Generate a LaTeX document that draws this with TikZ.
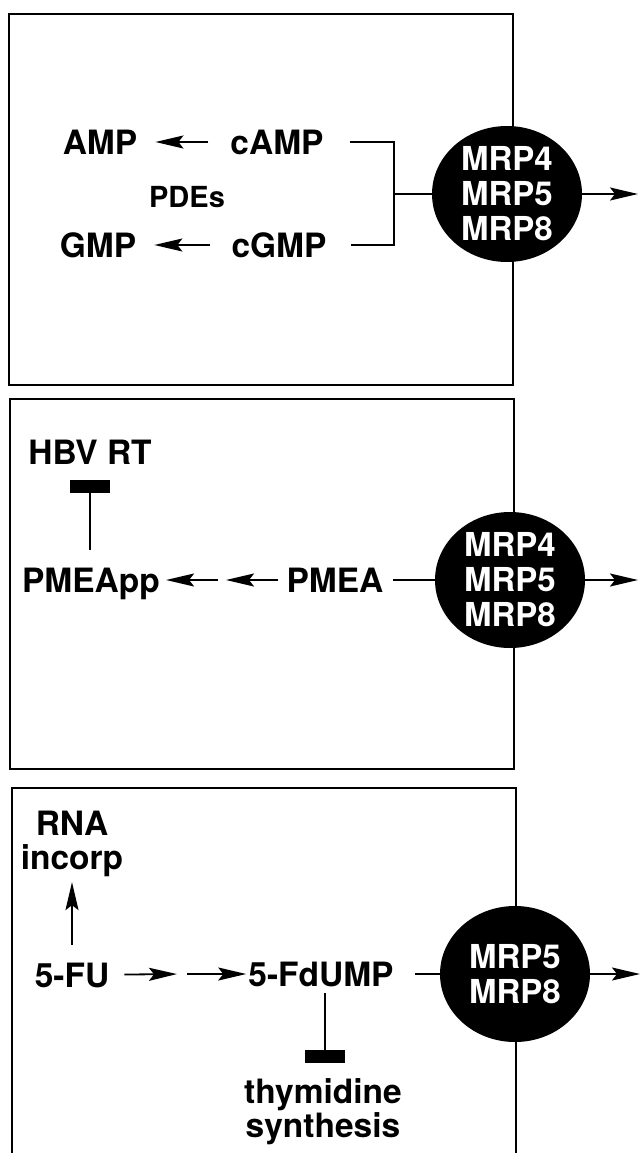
\documentclass[tikz,border=0pt]{standalone}
\usepackage{fontspec}
\setmainfont{TeX Gyre Heros}
\usetikzlibrary{arrows.meta,shapes.geometric,positioning}
\tikzset{>={Stealth[length=28pt,width=13pt,inset=5pt]}}
\tikzset{
  lbl/.style={font=\fontsize{33.5}{35}\selectfont\bfseries, inner sep=0pt, text height=24pt, text depth=0pt},
  lbltwo/.style={font=\fontsize{33.5}{34}\selectfont\bfseries, inner sep=0pt, align=center},
  mrp/.style={ellipse, fill=black, text=white, minimum width=150pt, minimum height=136pt,
    inner sep=0pt, align=center, font=\fontsize{33}{35}\selectfont\bfseries},
  panel/.style={line width=2pt},
  link/.style={line width=1.8pt},
  tbar/.style={fill=black, minimum width=40pt, minimum height=13pt, inner sep=0pt},
}

\begin{document}
\begin{tikzpicture}[x=1pt,y=-1pt]
\useasboundingbox (0,0) rectangle (641,1153);
% the three cells
\draw[panel] (8.5,14) rectangle (513,385);
\draw[panel] (10,399) rectangle (514,769);
\draw[panel] (12,1153) |- (516,788) -- (516,1153);

% cyclic nucleotides
\node[lbl] (amp) at (100,142) {AMP};
\node[lbl] (camp) at (277,142) {cAMP};
\node[lbl] (gmp) at (98,245) {GMP};
\node[lbl] (cgmp) at (279,245) {cGMP};
\node[lbl, font=\fontsize{29}{30}\selectfont\bfseries, text height=21pt] (pdes) at (187,197) {PDEs};
\node[mrp] (mrpA) at (507,194) {MRP4\\MRP5\\MRP8};
\coordinate (joinA) at (394,194);
\coordinate (outA) at (638,194);
\draw[link,->,shorten <=22pt,shorten >=18pt] (camp.west) -- (amp.east);
\draw[link,->,shorten <=21pt,shorten >=18pt] (cgmp.west) -- (gmp.east);
\draw[link] ([xshift=26pt]camp.east) -| (joinA) |- ([xshift=24pt]cgmp.east);
\draw[link] (joinA) -- (mrpA);
\draw[link,->] (mrpA) -- (outA);

% adefovir
\node[lbl] (hbv) at (90,452) {HBV RT};
\node[tbar] (hbvbar) at (90,486.5) {};
\node[lbl] (pmeapp) at (91,580) {PMEApp};
\node[lbl] (pmea) at (335,580) {PMEA};
\coordinate (midB) at (222,580);
\node[mrp] (mrpB) at (510,580) {MRP4\\MRP5\\MRP8};
\coordinate (outB) at (638,580);
\draw[link,shorten <=18pt] (pmeapp.north -| hbvbar) -- (hbvbar);
\draw[link,->,shorten <=8pt,shorten >=4pt] (pmea) -- (midB);
\draw[link,->,shorten <=4pt,shorten >=6pt] (midB) -- (pmeapp);
\draw[link,shorten <=9pt] (pmea) -- (mrpB);
\draw[link,->] (mrpB) -- (outB);

% 5-fluorouracil
\node[lbltwo, anchor=north] (rna) at (72,811) {RNA\\incorp};
\node[lbl] (fu) at (72,975) {5-FU};
\node[lbl] (fdump) at (321,974) {5-FdUMP};
\coordinate (midC) at (182,974);
\node[tbar] (thybar) at (325,1056.5) {};
\node[lbltwo, anchor=north] (thy) at (323,1078) {thymidine\\synthesis};
\node[mrp] (mrpC) at (515,974) {MRP5\\MRP8};
\coordinate (outC) at (640,974);
\draw[link,->,shorten <=18pt,shorten >=5pt] (fu) -- (rna);
\draw[link,->,shorten <=15pt,shorten >=5pt] (fu) -- (midC);
\draw[link,->,shorten <=5pt,shorten >=2pt] (midC) -- (fdump);
\draw[link,shorten <=7pt] (fdump.south -| thybar) -- (thybar);
\draw[link,shorten <=21pt] (fdump) -- (mrpC);
\draw[link,->] (mrpC) -- (outC);
\end{tikzpicture}
\end{document}
